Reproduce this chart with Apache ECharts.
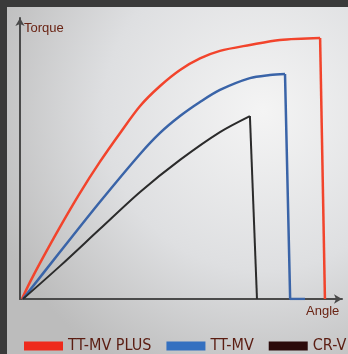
<!DOCTYPE html>
<html>
<head>
<meta charset="utf-8">
<script src="https://cdn.jsdelivr.net/npm/echarts@6/dist/echarts.min.js"></script>
<style>
  html, body { margin: 0; padding: 0; background: #3a3a3a; }
  #main { width: 348px; height: 354px; }
</style>
</head>
<body>
<div id="main"></div>
<script>
// angle / torque, arbitrary units (0-100 along each axis)
// rising part of each curve, then the drop after failure
var ttmvPlusRise = [[0.6,0],[3.1,6],[6.2,12.8],[12.4,25.6],[18.6,37.7],[24.8,48.8],[31.1,59.1],
  [37.3,68.7],[43.5,75.8],[49.7,81.5],[55.9,85.6],[62.1,88.3],[71.4,90.4],[80.7,92.2],[93.2,92.9]];
var ttmvPlusDrop = [[93.2,92.9],[94.7,0]];
var ttmvRise = [[0.9,0],[12.4,16.7],[24.8,34.5],[37.3,51.6],[43.5,59.1],[49.7,65.1],[55.9,70.1],
  [62.1,74.4],[71.4,78.6],[77.6,79.7],[82.3,80.1]];
var ttmvDrop = [[82.3,80.1],[83.9,0],[88.5,0]];
var crvRise = [[0.9,0],[12.4,11.7],[24.8,24.9],[37.3,38.1],[49.7,49.5],[62.1,59.4],[71.4,65.1]];
var crvDrop = [[71.4,65.1],[73.6,0]];

var names = ['TT-MV PLUS', 'TT-MV', 'CR-V'];
var lineColors = ['#f2442c', '#3a64a8', '#2b2b2b'];
var legendColors = ['#ee2a1c', '#3470c0', '#2b0a0a'];

var chart = echarts.init(document.getElementById('main'));

var axisLine = {
  show: true,
  symbol: ['none', 'arrow'],
  symbolSize: [7, 8],
  lineStyle: { color: '#4a4a4a', width: 2 }
};

var curves = [[ttmvPlusRise, ttmvPlusDrop], [ttmvRise, ttmvDrop], [crvRise, crvDrop]];
var series = [];
curves.forEach(function (c, i) {
  c.forEach(function (d, j) {
    series.push({
      name: names[i],
      type: 'line',
      data: d,
      symbol: 'none',
      smooth: j == 0 ? 0.3 : false,
      color: legendColors[i],
      lineStyle: { color: lineColors[i], width: i == 2 ? 2 : 2.5 }
    });
  });
});

var option = {
  backgroundColor: '#3a3a3a',
  animation: false,
  graphic: [
    {
      type: 'rect', z: -10, silent: true,
      shape: { x: 7, y: 7, width: 341, height: 347 },
      style: {
        fill: new echarts.graphic.RadialGradient(0.75, 0.3, 0.85, [
          { offset: 0, color: '#f4f4f4' },
          { offset: 0.55, color: '#dedfe1' },
          { offset: 1, color: '#bcbcbc' }
        ])
      }
    },
    {
      type: 'text', left: 24, top: 22,
      style: { text: 'Torque', fill: '#6a2414', font: '13px "Liberation Sans"' }
    },
    {
      type: 'text', left: 306, top: 305,
      style: { text: 'Angle', fill: '#6a2414', font: '13px "Liberation Sans"' }
    }
  ],
  grid: { left: 20, top: 18, width: 322, height: 281 },
  legend: {
    left: 19, top: 333, width: 600,
    icon: 'rect',
    itemWidth: 39, itemHeight: 9, itemGap: 15,
    textStyle: { color: '#5b1d12', fontSize: 16, fontFamily: 'DejaVu Sans Condensed' },
    data: names.map(function (n, i) {
      return { name: n, itemStyle: { color: legendColors[i] } };
    })
  },
  xAxis: {
    type: 'value', min: 0, max: 100,
    axisLine: axisLine,
    axisTick: { show: false }, axisLabel: { show: false }, splitLine: { show: false }
  },
  yAxis: {
    type: 'value', min: 0, max: 100,
    axisLine: axisLine,
    axisTick: { show: false }, axisLabel: { show: false }, splitLine: { show: false }
  },
  series: series
};

chart.setOption(option);
</script>
</body>
</html>
